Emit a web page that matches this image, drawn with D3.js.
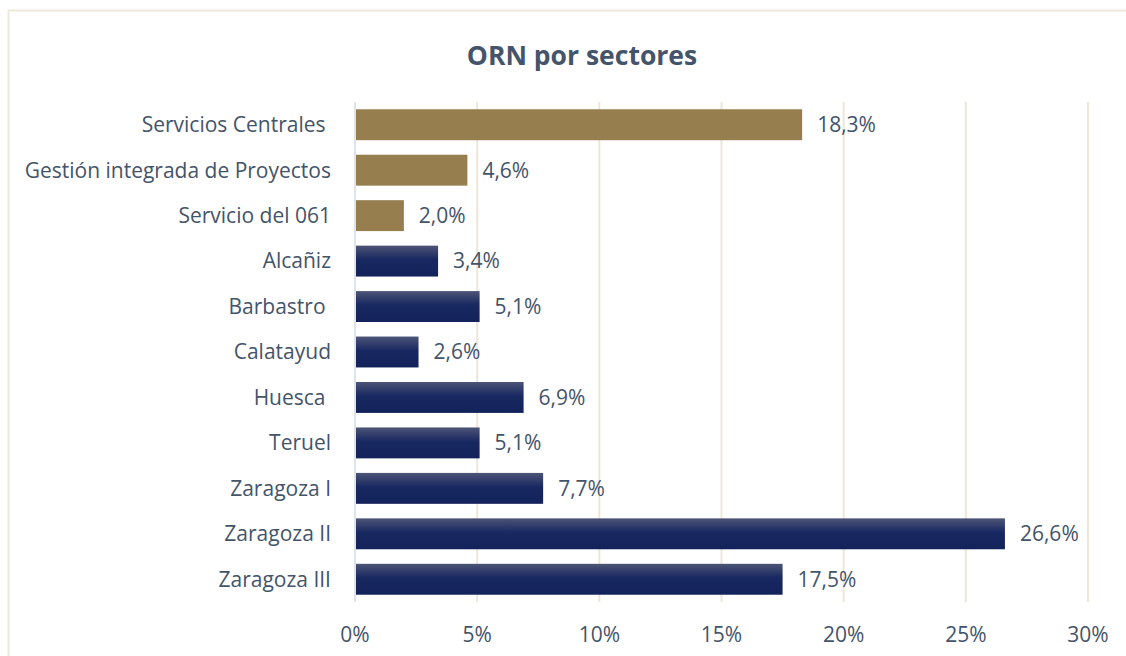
<!DOCTYPE html>
<html>
<head>
<meta charset="utf-8">
<script src="https://cdn.jsdelivr.net/npm/d3@7"></script>
<style>
  body { margin: 0; background: #fff; }
  text { font-family: "Open Sans", sans-serif; }
</style>
</head>
<body>
<div id="chart"></div>
<script>
// chart data
const categories = ["Servicios Centrales ", "Gestión integrada de Proyectos", "Servicio del 061",
    "Alcañiz", "Barbastro ", "Calatayud", "Huesca ", "Teruel", "Zaragoza I", "Zaragoza II", "Zaragoza III"];
const values = [18.3, 4.6, 2.0, 3.4, 5.1, 2.6, 6.9, 5.1, 7.7, 26.6, 17.5];
const groups = ["gold", "gold", "gold", "navy", "navy", "navy", "navy", "navy", "navy", "navy", "navy"];
const xTicks = [0, 5, 10, 15, 20, 25, 30];

const W = 1126, H = 656;
const margin = { top: 102, right: 38, bottom: 54, left: 355 };
const width = W - margin.left - margin.right,
    height = H - margin.top - margin.bottom;
const textColor = "#44546a";

const svg = d3.select("#chart").append("svg")
    .attr("width", W)
    .attr("height", H);

// frame
svg.append("rect")
    .attr("x", 8.5).attr("y", 10.5)
    .attr("width", W + 10).attr("height", H + 10)
    .attr("fill", "none")
    .attr("stroke", "#efe9dd")
    .attr("stroke-width", 2);

const defs = svg.append("defs");
const grad = defs.append("linearGradient")
    .attr("id", "navyGrad")
    .attr("x1", 0).attr("y1", 0).attr("x2", 0).attr("y2", 1);
grad.append("stop").attr("offset", "0%").attr("stop-color", "#4d5476");
grad.append("stop").attr("offset", "45%").attr("stop-color", "#182861");
grad.append("stop").attr("offset", "100%").attr("stop-color", "#13225a");

svg.append("text")
    .attr("x", 582).attr("y", 65)
    .attr("text-anchor", "middle")
    .attr("fill", textColor)
    .style("font-size", "26.5px")
    .style("font-weight", "bold")
    .text("ORN por sectores");

const g = svg.append("g").attr("transform", `translate(${margin.left},${margin.top})`);

const x = d3.scaleLinear().domain([0, 30]).range([0, width]);
const y = d3.scaleBand().domain(categories).range([0, height]).paddingInner(0.32).paddingOuter(0.16);

// gridlines
g.selectAll(".grid").data(xTicks.slice(1)).join("line")
    .attr("x1", d => x(d)).attr("x2", d => x(d))
    .attr("y1", 0).attr("y2", height)
    .attr("stroke", "#ede6d9")
    .attr("stroke-width", 2);

// bars
g.selectAll(".bar").data(values).join("rect")
    .attr("x", 0)
    .attr("y", (d, i) => y(categories[i]))
    .attr("width", d => x(d))
    .attr("height", y.bandwidth())
    .attr("fill", (d, i) => groups[i] === "gold" ? "#967e4e" : "url(#navyGrad)");

// zero axis line
g.append("line")
    .attr("x1", 0).attr("x2", 0)
    .attr("y1", 0).attr("y2", height)
    .attr("stroke", "#dfe4ea")
    .attr("stroke-width", 2);

// value labels
g.selectAll(".val").data(values).join("text")
    .attr("x", d => x(d) + 15)
    .attr("y", (d, i) => y(categories[i]) + y.bandwidth() / 2)
    .attr("dy", "0.35em")
    .attr("fill", textColor)
    .style("font-size", "21px")
    .text(d => d.toFixed(1).replace(".", ",") + "%");

// category labels
g.selectAll(".cat").data(categories).join("text")
    .attr("x", -24)
    .attr("y", d => y(d) + y.bandwidth() / 2)
    .attr("dy", "0.35em")
    .attr("text-anchor", "end")
    .attr("fill", textColor)
    .style("font-size", "21px")
    .style("white-space", "pre")
    .attr("xml:space", "preserve")
    .text(d => d);

// x tick labels
g.selectAll(".tick").data(xTicks).join("text")
    .attr("x", d => x(d))
    .attr("y", height + 40)
    .attr("text-anchor", "middle")
    .attr("fill", textColor)
    .style("font-size", "21px")
    .text(d => d + "%");
</script>
</body>
</html>
